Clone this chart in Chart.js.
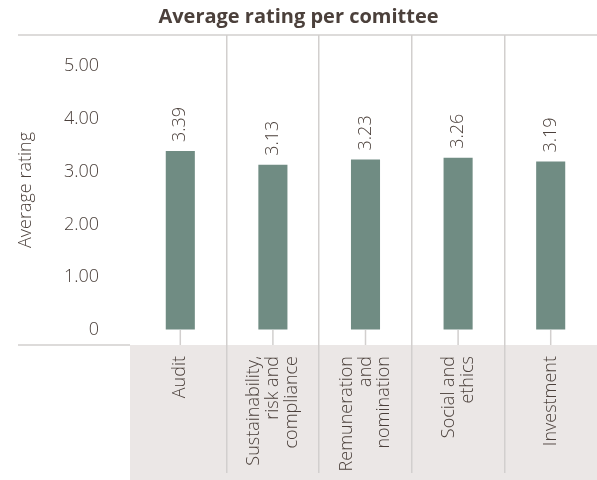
<!DOCTYPE html>
<html>
<head>
<meta charset="utf-8">
<script src="https://cdn.jsdelivr.net/npm/chart.js@4"></script>
<style>
  body { margin: 0; background: #fff; }
  #wrap { width: 597px; height: 480px; }
</style>
</head>
<body>
<div id="wrap"><canvas id="grafico"></canvas></div>
<script>
const comites = [
    ['Audit'],
    ['Sustainability,', 'risk and', 'compliance'],
    ['Remuneration', 'and', 'nomination'],
    ['Social and', 'ethics'],
    ['Investment']
]
const notas = [3.39, 3.13, 3.23, 3.26, 3.19]
const ticks_y = [0, 1, 2, 3, 4, 5]

const corTexto = '#4b403b'
const corLinha = '#d2cfce'
const corCaixa = '#ebe7e6'
const corBarra = '#708c83'
const fonte = "'Open Sans', sans-serif"

// linhas, caixa das categorias e textos girados
const enfeites = {
    id: 'enfeites',
    beforeDraw(chart) {
        const {ctx, chartArea: a} = chart
        ctx.save()
        ctx.fillStyle = corCaixa
        ctx.fillRect(a.left - 4, a.bottom, chart.width - a.left + 4, chart.height - a.bottom)
        ctx.strokeStyle = corLinha
        ctx.lineWidth = 1.5
        ctx.beginPath()
        ctx.moveTo(18, a.top)
        ctx.lineTo(chart.width, a.top)
        ctx.moveTo(18, a.bottom)
        ctx.lineTo(a.left - 4, a.bottom)
        ctx.stroke()
        ctx.restore()
    },
    afterDatasetsDraw(chart) {
        const {ctx, chartArea: a} = chart
        const x = chart.scales.x
        const y = chart.scales.y
        const zero = y.getPixelForValue(0)
        ctx.save()

        // tracinho entre a barra e a caixa
        ctx.strokeStyle = corLinha
        ctx.lineWidth = 1.5
        ctx.beginPath()
        comites.forEach((c, i) => {
            const px = x.getPixelForTick(i)
            ctx.moveTo(px, zero)
            ctx.lineTo(px, a.bottom)
        })
        ctx.stroke()

        ctx.fillStyle = corTexto
        ctx.font = `300 18px ${fonte}`
        ctx.textBaseline = 'middle'

        // valores acima das barras
        chart.getDatasetMeta(0).data.forEach((bar, i) => {
            ctx.save()
            ctx.translate(bar.x, bar.y - 9)
            ctx.rotate(-Math.PI / 2)
            ctx.textAlign = 'left'
            ctx.fillText(notas[i].toFixed(2), 0, 0)
            ctx.restore()
        })

        // nomes dos comites
        const lh = 18.7
        comites.forEach((linhas, i) => {
            const px = x.getPixelForTick(i)
            linhas.forEach((t, j) => {
                ctx.save()
                ctx.translate(px + (j - (linhas.length - 1) / 2) * lh, a.bottom + 11)
                ctx.rotate(-Math.PI / 2)
                ctx.textAlign = 'right'
                ctx.fillText(t, 0, 0)
                ctx.restore()
            })
        })
        ctx.restore()
    }
}

const data = {
    labels: comites,
    datasets: [{
        data: notas,
        backgroundColor: corBarra,
        barPercentage: 0.314,
        categoryPercentage: 1
    }]
}

const config = {
    type: 'bar',
    data: data,
    plugins: [enfeites],
    options: {
        responsive: true,
        maintainAspectRatio: false,
        animation: false,
        layout: { padding: 0 },
        plugins: {
            legend: { display: false },
            tooltip: { enabled: false },
            title: {
                display: true,
                text: 'Average rating per comittee',
                color: corTexto,
                font: { family: fonte, size: 20, weight: 'bold' },
                padding: { top: 5, bottom: 6 }
            }
        },
        scales: {
            x: {
                offset: true,
                border: { display: false },
                grid: {
                    offset: true,
                    drawOnChartArea: true,
                    drawTicks: true,
                    tickLength: 128,
                    lineWidth: 1.5,
                    color: c => (c.index > 0 ? corLinha : 'transparent')
                },
                ticks: { display: false },
                afterFit: s => { s.height = 135 }
            },
            y: {
                min: -0.284,
                max: 5.587,
                border: { display: false },
                grid: {
                    drawOnChartArea: false,
                    drawTicks: true,
                    tickLength: 25,
                    color: 'transparent'
                },
                afterBuildTicks: s => { s.ticks = ticks_y.map(v => ({ value: v })) },
                ticks: {
                    padding: 10,
                    color: corTexto,
                    font: { family: fonte, size: 18, weight: 300 },
                    callback: v => (v === 0 ? '0' : v.toFixed(2))
                },
                title: {
                    display: true,
                    text: 'Average rating',
                    color: corTexto,
                    font: { family: fonte, size: 18, weight: 300 },
                    padding: { top: 15 }
                },
                afterFit: s => { s.width = 134 }
            }
        }
    }
}

const graficoGeral = new Chart(document.querySelector('#grafico'), config)
</script>
</body>
</html>
